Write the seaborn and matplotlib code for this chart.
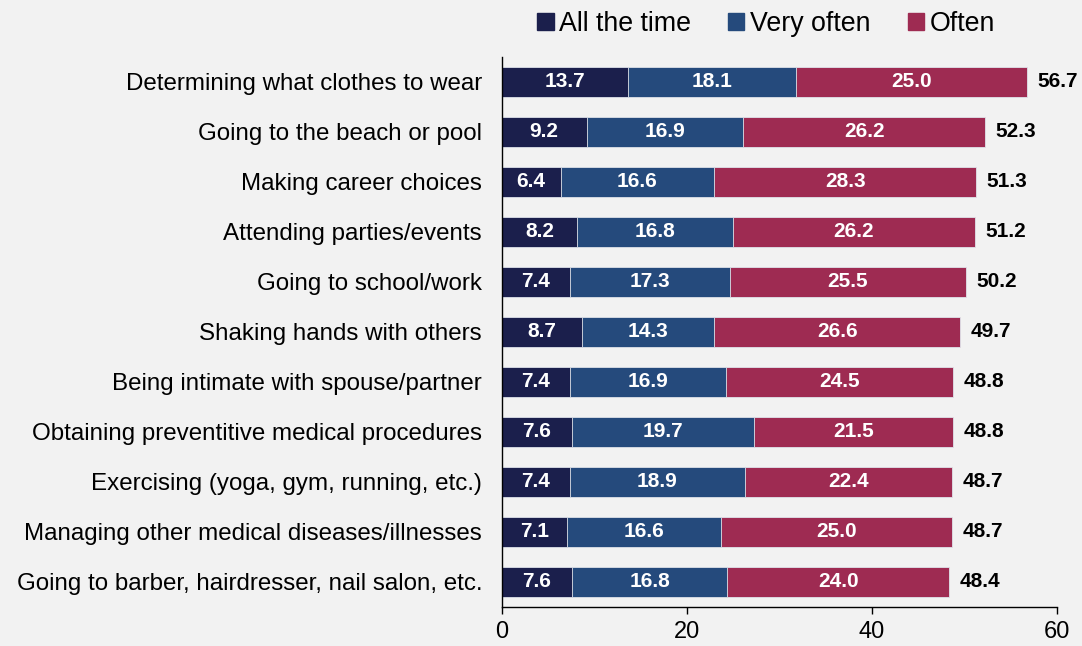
import matplotlib
matplotlib.use("Agg")
import matplotlib.pyplot as plt
import seaborn as sns
import pandas as pd

categories = [
    "Determining what clothes to wear",
    "Going to the beach or pool",
    "Making career choices",
    "Attending parties/events",
    "Going to school/work",
    "Shaking hands with others",
    "Being intimate with spouse/partner",
    "Obtaining preventitive medical procedures",
    "Exercising (yoga, gym, running, etc.)",
    "Managing other medical diseases/illnesses",
    "Going to barber, hairdresser, nail salon, etc.",
]
all_the_time = [13.7, 9.2, 6.4, 8.2, 7.4, 8.7, 7.4, 7.6, 7.4, 7.1, 7.6]
very_often = [18.1, 16.9, 16.6, 16.8, 17.3, 14.3, 16.9, 19.7, 18.9, 16.6, 16.8]
often = [25.0, 26.2, 28.3, 26.2, 25.5, 26.6, 24.5, 21.5, 22.4, 25.0, 24.0]
totals = [56.7, 52.3, 51.3, 51.2, 50.2, 49.7, 48.8, 48.8, 48.7, 48.7, 48.4]

series = ["All the time", "Very often", "Often"]
colors = {"All the time": "#1b1f4c", "Very often": "#254a7c", "Often": "#9e2b52"}
bg = "#f2f2f2"

sns.set_theme(style="white")
plt.rcParams["font.family"] = ["Liberation Sans", "DejaVu Sans"]

df = pd.DataFrame({
    "category": categories,
    "All the time": all_the_time,
    "Very often": very_often,
    "Often": often,
})
df["cum1"] = df["All the time"]
df["cum2"] = df["cum1"] + df["Very often"]
df["cum3"] = df["cum2"] + df["Often"]

fig = plt.figure(figsize=(10.82, 6.46), dpi=100, facecolor=bg)
ax = fig.add_axes([0.4635, 0.0604, 0.513, 0.8514])
ax.set_facecolor(bg)

# Stacked bars drawn as overlaid cumulative layers, widest first
for col, name in [("cum3", "Often"), ("cum2", "Very often"), ("cum1", "All the time")]:
    sns.barplot(data=df, x=col, y="category", color=colors[name], orient="h",
                width=0.6, edgecolor="#dfe3ea", linewidth=0.6, saturation=1,
                ax=ax)

# Segment value labels and totals
for i in range(len(categories)):
    lefts = [0, df["cum1"][i], df["cum2"][i]]
    vals = [all_the_time[i], very_often[i], often[i]]
    for l, v in zip(lefts, vals):
        ax.text(l + v / 2, i, f"{v:.1f}", ha="center", va="center",
                color="white", fontsize=15, fontweight="bold")
    ax.annotate(f"{totals[i]:.1f}", xy=(df["cum3"][i], i), xytext=(7.5, 0),
                textcoords="offset points", ha="left", va="center",
                color="black", fontsize=15, fontweight="bold")

ax.set_xlim(0, 60)
ax.set_ylim(10.5, -0.5)
ax.set_xticks([0, 20, 40, 60])
ax.set_xlabel("")
ax.set_ylabel("")
ax.tick_params(axis="x", direction="out", length=5, width=1, color="black",
               labelsize=17, pad=5, bottom=True)
ax.tick_params(axis="y", length=0, labelsize=17.4, pad=14)
for lbl in ax.get_yticklabels() + ax.get_xticklabels():
    lbl.set_color("black")
for s in ["top", "right"]:
    ax.spines[s].set_visible(False)
for s in ["left", "bottom"]:
    ax.spines[s].set_color("black")
    ax.spines[s].set_linewidth(1)

handles = [plt.Rectangle((0, 0), 1, 1, color=colors[n]) for n in series]
fig.legend(handles, series, loc="upper center", bbox_to_anchor=(0.708, 1.02),
           ncol=3, frameon=False, fontsize=19.3, handlelength=0.6, handleheight=0.6,
           handletextpad=0.2, columnspacing=1.4, labelcolor="black")

fig.savefig("out.png", dpi=100, facecolor=bg)
